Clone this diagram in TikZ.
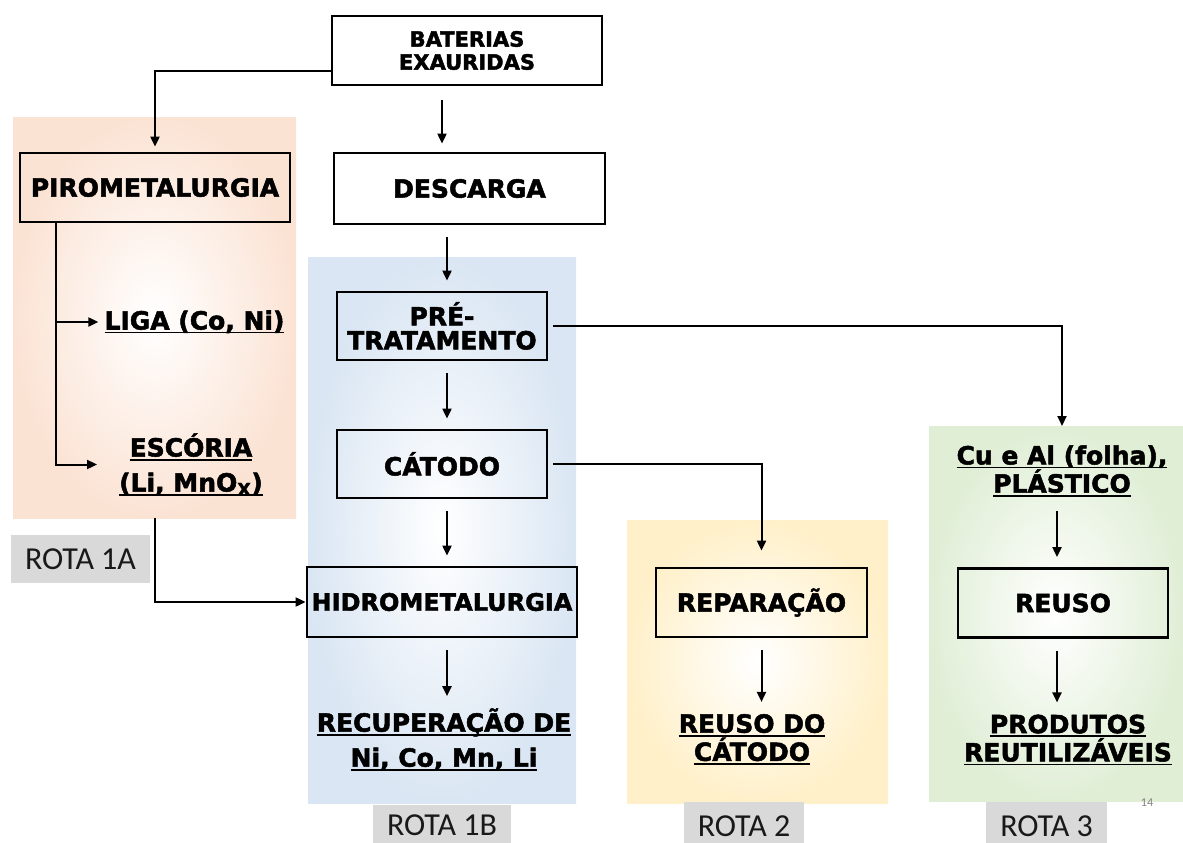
\documentclass[tikz,border=0pt]{standalone}
\usepackage{fontspec}
\setmainfont{DejaVu Sans}[BoldFeatures={FakeBold=2}]
\newfontfamily\rotafont{Carlito}
\usepackage{tikz}
\usetikzlibrary{arrows.meta}
\usetikzlibrary{calc}

\definecolor{zoneA}{HTML}{FBE3D4}
\definecolor{zoneB}{HTML}{DAE6F3}
\definecolor{zoneC}{HTML}{FFF0C9}
\definecolor{zoneD}{HTML}{E0EED6}
\definecolor{rotagray}{HTML}{D9D9D9}

\newcommand{\ulin}[1]{\setbox0=\hbox{#1}\leavevmode\rlap{\rule[-4pt]{\wd0}{1.8pt}}\box0}

\begin{document}
\begin{tikzpicture}[
	x=1pt, y=-1pt,
	box/.style={
		draw=black,
		line width=2.8pt,
		inner sep=1,
		minimum width=#1,
		minimum height=69,
		align=center,
		font=\fontsize{25}{24}\selectfont\bfseries
	},
	box/.default=210,
	txt/.style={
		align=center,
		inner sep=2,
		font=\fontsize{25}{#1}\selectfont\bfseries
	},
	txt/.default=24,
	zone/.style={inner sep=0, outer sep=0, inner color=white, outer color=#1},
	rota/.style={
		fill=rotagray,
		inner sep=0,
		minimum height=48,
		text=black!90,
		font=\rotafont\fontsize{32}{32}\selectfont
	},
	arr/.style={line width=2pt, -{Triangle[length=10pt,width=9pt]}},
	gapped/.style={shorten <=12pt, shorten >=10pt}
]
\useasboundingbox (0,0) rectangle (1183,843);

% zones
\node[zone=zoneA, minimum width=283, minimum height=401] (Z1A) at (154.5,317.5) {};
\node[zone=zoneB, minimum width=268, minimum height=546] (Z1B) at (442,530) {};
\node[zone=zoneC, minimum width=261, minimum height=283] (Z2) at (757.5,661.5) {};
\node[zone=zoneD, minimum width=254, minimum height=375] (Z3) at (1056,613.5) {};

% boxes
\node[box=270, font=\fontsize{21}{23}\selectfont\bfseries] (BAT) at (467,50.5) {BATERIAS\\EXAURIDAS};
\node[box=271, minimum height=71] (DES) at (469.5,188.5) {DESCARGA};
\node[box=270] (PIR) at (155,187.5) {PIROMETALURGIA};
\node[box, minimum height=68] (PRE) at (442,326) {PRÉ-\\TRATAMENTO};
\node[box, minimum height=68] (CAT) at (442,464) {CÁTODO};
\node[box=270, minimum height=70, font=\fontsize{24}{24}\selectfont\bfseries] (HID) at (442,602) {HIDROMETALURGIA};
\node[box=211] (REP) at (761.5,602.5) {REPARAÇÃO};
\node[box=210] (REU) at (1063,603) {REUSO};

% products
\node[txt] (LIG) at (194.5,322) {\ulin{LIGA (Co, Ni)}};
\node[txt=35] (ESC) at (191,464.5) {\ulin{ESCÓRIA}\\\ulin{(Li, MnO\textsubscript{X})}};
\node[txt=35] (REC) at (444,739.5) {\ulin{RECUPERAÇÃO DE}\\\ulin{Ni, Co, Mn, Li}};
\node[txt=25] (RDC) at (752,739.5) {\ulin{REUSO DO}\\\ulin{CÁTODO}};
\node[txt] (CUA) at (1062,471) {\ulin{Cu e Al (folha),}\\\ulin{PLÁSTICO}};
\node[txt] (PRO) at (1068,740) {\ulin{PRODUTOS}\\\ulin{REUTILIZÁVEIS}};

% route labels
\node[rota, minimum width=139] (L1A) at (80.5,559) {ROTA 1A};
\node[rota, minimum width=138, minimum height=40, anchor=north] (L1B) at (442,805) {ROTA 1B};
\node[rota, minimum width=120, anchor=north] (L2) at (744,802) {ROTA 2};
\node[rota, minimum width=121, anchor=north] (L3) at (1046.5,802) {ROTA 3};
\node[font=\rotafont\fontsize{12}{12}\selectfont, text=gray] (PG) at (1147,803) {14};

\coordinate (colB) at (447,0);
\coordinate (colG) at (1057,0);

% connectors
\draw[arr, shorten >=5pt] ($(BAT.west)+(0,21)$) -| (PIR.north);
\draw[arr, shorten <=14pt, shorten >=8pt] (BAT.south -| PRE) -- (DES.north -| PRE);
\draw[arr, gapped] (DES.south -| colB) -- (PRE.north -| colB);
\draw[arr, gapped] (PRE.south -| colB) -- (CAT.north -| colB);
\draw[arr, gapped] (CAT.south -| colB) -- (HID.north -| colB);
\draw[arr, gapped] (HID.south -| colB) -- (REC.north -| colB);
\draw[arr, shorten >=4pt] ($(PIR.south west)+(37,0)$) |- (LIG.west);
\draw[arr, shorten >=20pt] ($(PIR.south west)+(37,0)$) |- (ESC.west);
\draw[arr] (Z1A.south -| PIR) |- (HID.west);
\draw[arr, shorten <=5pt] (PRE.east) -| (CUA.north |- Z3.north);
\draw[arr, shorten <=5pt, shorten >=16pt] (CAT.east) -| (REP.north);
\draw[arr, gapped] (REP.south) -- (RDC.north -| REP);
\draw[arr, gapped] (CUA.south -| colG) -- (REU.north -| colG);
\draw[arr, gapped] (REU.south -| colG) -- (PRO.north -| colG);
\end{tikzpicture}
\end{document}
